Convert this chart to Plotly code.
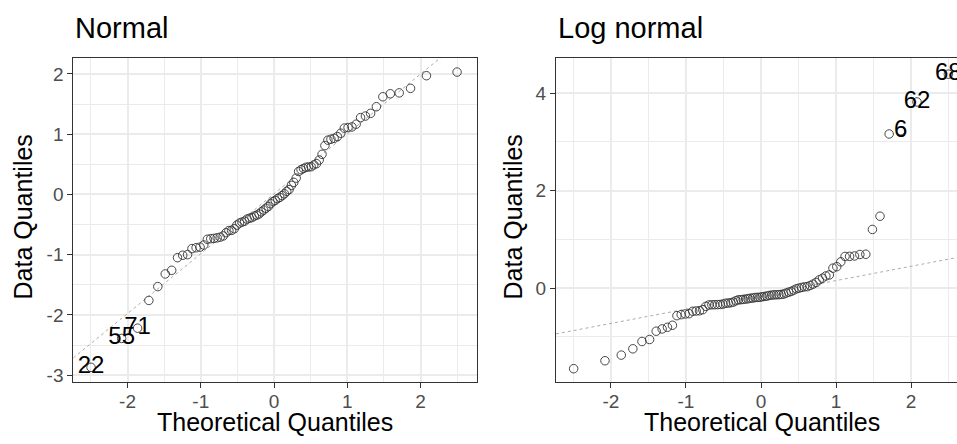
import plotly.graph_objects as go

# Theoretical normal quantiles for n = 80, p = (i - 0.5) / 80 (lower half; upper half mirrored)
theo_lower = [-2.4977, -2.0800, -1.8627, -1.7086, -1.5866, -1.4851, -1.3970, -1.3180,
              -1.2469, -1.1806, -1.1206, -1.0640, -1.0100, -0.9591, -0.9106, -0.8642,
              -0.8197, -0.7764, -0.7348, -0.6942, -0.6550, -0.6163, -0.5791, -0.5427,
              -0.5069, -0.4715, -0.4369, -0.4023, -0.3687, -0.3350, -0.3019, -0.2692,
              -0.2372, -0.2049, -0.1733, -0.1416, -0.1100, -0.0784, -0.0470, -0.0157]
theoretical = theo_lower + [-v for v in reversed(theo_lower)]

normal_sample = [-2.87, -2.39, -2.22, -1.76, -1.53, -1.32, -1.26, -1.05, -1.01, -1.00,
                 -0.90, -0.885, -0.875, -0.84, -0.745, -0.735, -0.73, -0.72, -0.71, -0.69,
                 -0.636, -0.60, -0.597, -0.57, -0.51, -0.475, -0.46, -0.445, -0.41, -0.395,
                 -0.385, -0.36, -0.345, -0.325, -0.29, -0.26, -0.23, -0.20, -0.155, -0.12,
                 -0.10, -0.07, -0.05, -0.02, 0.01, 0.05, 0.08, 0.15, 0.20, 0.27,
                 0.38, 0.41, 0.43, 0.45, 0.455, 0.46, 0.49, 0.51, 0.57, 0.665,
                 0.81, 0.90, 0.915, 0.93, 0.96, 1.015, 1.10, 1.11, 1.12, 1.165,
                 1.275, 1.30, 1.345, 1.455, 1.62, 1.67, 1.685, 1.76, 1.97, 2.03]

lognormal_sample = [-1.653, -1.490, -1.374, -1.245, -1.095, -1.054, -0.884, -0.837, -0.803, -0.762,
                    -0.565, -0.544, -0.530, -0.524, -0.475, -0.469, -0.465, -0.442, -0.374, -0.345,
                    -0.342, -0.340, -0.338, -0.335, -0.327, -0.310, -0.306, -0.299, -0.286, -0.259,
                    -0.240, -0.238, -0.231, -0.224, -0.218, -0.206, -0.204, -0.192, -0.190, -0.188,
                    -0.177, -0.170, -0.163, -0.150, -0.143, -0.138, -0.136, -0.134, -0.129, -0.122,
                    -0.102, -0.082, -0.068, -0.041, -0.014, 0.000, 0.014, 0.027, 0.030, 0.054,
                    0.082, 0.116, 0.170, 0.204, 0.250, 0.270, 0.410, 0.440, 0.540, 0.650,
                    0.652, 0.660, 0.690, 0.695, 1.204, 1.476, 3.163, 3.23, 3.82, 4.39]

# labelled extreme observations: (rank index in sorted sample, observation id)
normal_labels = [(0, "22"), (1, "55"), (2, "71")]
lognormal_labels = [(77, "6"), (78, "62"), (79, "68")]

# reference lines (intercept, slope)
normal_line = (0.01, 0.994)
lognormal_line = (-0.138, 0.293)

titles = ["Normal", "Log normal"]
x_title = "Theoretical Quantiles"
y_title = "Data Quantiles"

x_ticks = [-2, -1, 0, 1, 2]
y_ticks1 = [-3, -2, -1, 0, 1, 2]
y_ticks2 = [0, 2, 4]

xrange1 = [-2.74, 2.77]
yrange1 = [-3.12, 2.27]
xrange2 = [-2.733, 2.613]
yrange2 = [-1.92, 4.73]

W, H = 957, 444
FONT = "Liberation Sans, Arial, Helvetica, sans-serif"
DARK = "#333333"
GRID = "#EBEBEB"

fig = go.Figure()

def add_panel(xs, ys, labels, line, xr, xa, ya):
    b, m = line
    fig.add_trace(go.Scatter(x=[xr[0], xr[1]], y=[b + m * xr[0], b + m * xr[1]],
                             mode="lines", line=dict(color="#ABABAB", width=1, dash="3px,3px"),
                             xaxis=xa, yaxis=ya, hoverinfo="skip", showlegend=False))
    fig.add_trace(go.Scatter(x=xs, y=ys, mode="markers",
                             marker=dict(symbol="circle-open", size=8.5, color=DARK,
                                         line=dict(width=0.9, color=DARK)),
                             xaxis=xa, yaxis=ya, showlegend=False))
    fig.add_trace(go.Scatter(x=[xs[i] for i, _ in labels], y=[ys[i] for i, _ in labels],
                             text=[t for _, t in labels], mode="text", textposition="middle center",
                             textfont=dict(family=FONT, size=24, color="black"),
                             xaxis=xa, yaxis=ya, showlegend=False, cliponaxis=True))

add_panel(theoretical, normal_sample, normal_labels, normal_line, xrange1, "x", "y")
add_panel(theoretical, lognormal_sample, lognormal_labels, lognormal_line, xrange2, "x2", "y2")

def axis(rng, dom, ticks, minor_dtick, anchor, mirror, standoff=0):
    return dict(range=rng, domain=dom, anchor=anchor,
                tickmode="array", tickvals=ticks, ticktext=[str(t) for t in ticks],
                showgrid=True, gridcolor=GRID, gridwidth=1.6, zeroline=False,
                showline=True, linecolor=DARK, linewidth=1, mirror=mirror,
                ticks="outside", ticklen=5, tickwidth=1, tickcolor=DARK,
                ticklabelstandoff=standoff,
                tickfont=dict(family=FONT, size=19, color="#4D4D4D"),
                minor=dict(dtick=minor_dtick, tick0=0, showgrid=True, gridcolor=GRID,
                           gridwidth=0.8, ticks=""))

x1d = [73.3 / W, 477 / W]
x2d = [556 / W, 1.0]
y1d = [(H - 385) / H, (H - 58) / H]
y2d = [(H - 384.3) / H, (H - 58) / H]

fig.update_layout(
    width=W, height=H, margin=dict(l=0, r=0, t=0, b=0),
    paper_bgcolor="white", plot_bgcolor="white",
    font=dict(family=FONT),
    xaxis=axis(xrange1, x1d, x_ticks, 0.5, "y", True, -3),
    yaxis=axis(yrange1, y1d, y_ticks1, 0.5, "x", True),
    xaxis2=axis(xrange2, x2d, x_ticks, 0.5, "y2", True, -3),
    yaxis2=axis(yrange2, y2d, y_ticks2, 1, "x2", False),
)

ann = []
for xpix, t in [(73, titles[0]), (556, titles[1])]:
    ann.append(dict(x=xpix / W, y=1 - 28 / H, xref="paper", yref="paper", text=t,
                    showarrow=False, xanchor="left", yanchor="middle",
                    font=dict(family=FONT, size=29, color="black")))
for xc in [274.5, 762]:
    ann.append(dict(x=xc / W, y=1 - 425 / H, xref="paper", yref="paper", text=x_title,
                    showarrow=False, xanchor="center", yanchor="middle",
                    font=dict(family=FONT, size=25, color="black")))
for xc in [23, 513]:
    ann.append(dict(x=xc / W, y=1 - 219 / H, xref="paper", yref="paper", text=y_title,
                    showarrow=False, xanchor="center", yanchor="middle", textangle=-90,
                    font=dict(family=FONT, size=25, color="black")))
fig.update_layout(annotations=ann)

fig.write_html("out.html", config={"displayModeBar": False},
               post_script="document.body.style.margin='0';document.body.style.overflow='hidden';")
